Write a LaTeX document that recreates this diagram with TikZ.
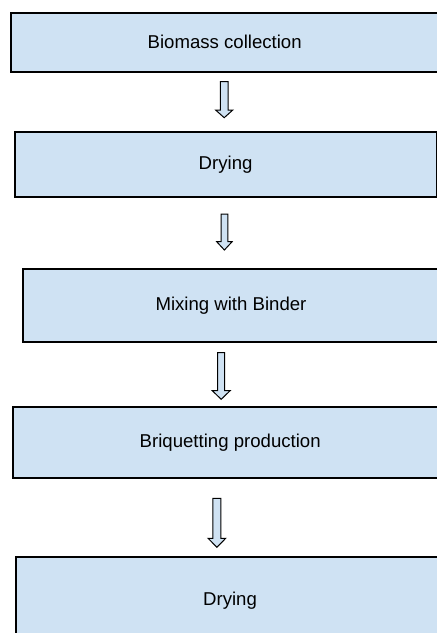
\documentclass[tikz,border=0pt]{standalone}
\usepackage{fontspec}
\setmainfont{Liberation Sans}
\definecolor{boxblue}{HTML}{CFE2F3}
\tikzset{
  box/.style={draw=black, line width=1.9pt, fill=boxblue, rectangle, inner sep=0pt,
    font=\fontsize{18.6}{22}\selectfont},
  blockarrow/.style={draw=black, line width=1pt, fill=boxblue, line join=miter}
}
% \barrow{cx}{ytop}{ybottom}{shaft half}{head half}{head length}
\newcommand{\barrow}[6]{%
  \draw[blockarrow] (#1-#4,#2) -- (#1+#4,#2) -- (#1+#4,#3-#6) -- (#1+#5,#3-#6)
    -- (#1,#3) -- (#1-#5,#3-#6) -- (#1-#4,#3-#6) -- cycle;}
\begin{document}
\begin{tikzpicture}[x=1pt,y=-1pt]
\useasboundingbox (0,0) rectangle (437,633);
\clip (0,0) rectangle (437,633);
\fill[white] (0,0) rectangle (437,633);
\node[box, minimum width=428pt, minimum height=59pt] (b1) at (224.7,42.2) {Biomass collection};
\node[box, minimum width=421.8pt, minimum height=65pt] (b2) at (225.6,164.2) {Drying};
\node[box, minimum width=416.6pt, minimum height=72.4pt] (b3) at (231,305.5) {Mixing with Binder};
\node[box, minimum width=433.7pt, minimum height=71.6pt] (b4) at (230.2,442.5) {Briquetting production};
\node[box, minimum width=428pt, minimum height=85.7pt] (b5) at (230,600.2) {Drying};
\barrow{224.2}{81.7}{117.7}{3.8}{8.6}{7.7}
\barrow{224.4}{214}{250}{3.4}{7.7}{8.3}
\barrow{221.2}{352.7}{399.3}{3.5}{9}{8.7}
\barrow{216.9}{498.3}{547.3}{4}{8.8}{9}
\end{tikzpicture}
\end{document}
